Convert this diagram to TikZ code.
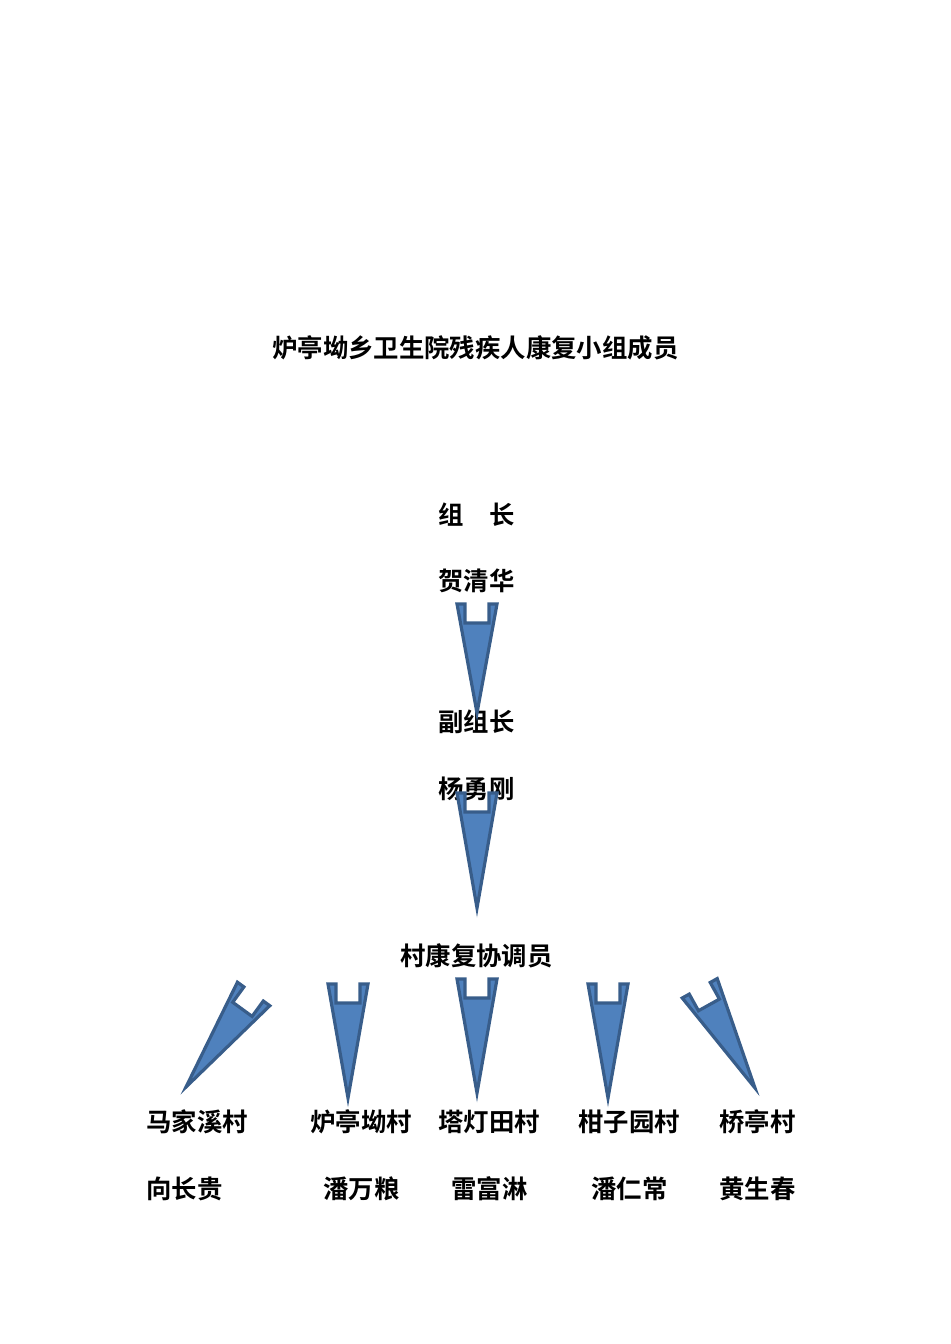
\documentclass[tikz,border=0pt]{standalone}
\usepackage{fontspec}
\newfontfamily\cjk{Noto Sans CJK SC Bold}
\definecolor{arrowblue}{HTML}{4F81BD}
\definecolor{arrowedge}{HTML}{385D8A}
\tikzset{
  member/.style={anchor=base west,inner sep=0pt,font=\cjk\fontsize{15.9}{19}\selectfont},
  notch/.style={fill=arrowblue,draw=arrowedge,line width=2pt,line join=miter},
}
% notched arrow: tip x, tip y, angle, length
\newcommand{\notcharrow}[4]{%
  \draw[notch,shift={(#1,#2)},rotate=#3]
  (0,0)--(-20,-#4)--(-12,-#4)--(-12,-#4+19)--(12,-#4+19)--(12,-#4)--(20,-#4)--cycle ;
}
\begin{document}
\begin{tikzpicture}[x=0.6265pt,y=-0.6265pt]
        \useasboundingbox (0,0) rectangle (950,1344) ;
        \node[member] (title) at (272,358) {炉亭坳乡卫生院残疾人康复小组成员} ;
        % leaders
        \node[member] (zz) at (438,524) {组　长} ;
        \node[member] (he) at (438,590) {贺清华} ;
        \node[member] (fz) at (438,731) {副组长} ;
        \node[member] (yang) at (438,798) {杨勇刚} ;
        \node[member] (xty) at (400,965) {村康复协调员} ;
        % villages
        \node[member] (v1) at (146,1131) {马家溪村} ;
        \node[member] (v2) at (310,1131) {炉亭坳村} ;
        \node[member] (v3) at (438,1131) {塔灯田村} ;
        \node[member] (v4) at (578,1131) {柑子园村} ;
        \node[member] (v5) at (719,1131) {桥亭村} ;
        \node[member] (p1) at (146,1198) {向长贵} ;
        \node[member] (p2) at (323,1198) {潘万粮} ;
        \node[member] (p3) at (451,1198) {雷富淋} ;
        \node[member] (p4) at (591,1198) {潘仁常} ;
        \node[member] (p5) at (719,1198) {黄生春} ;
        % arrows
        \notcharrow{477}{713}{0}{109}
        \notcharrow{477}{908}{0}{115}
        \notcharrow{186}{1087}{-36}{115}
        \notcharrow{348}{1098}{0}{114}
        \notcharrow{477}{1093}{0}{114}
        \notcharrow{608}{1098}{0}{114}
        \notcharrow{755}{1088}{29}{114}
      \end{tikzpicture}
\end{document}
